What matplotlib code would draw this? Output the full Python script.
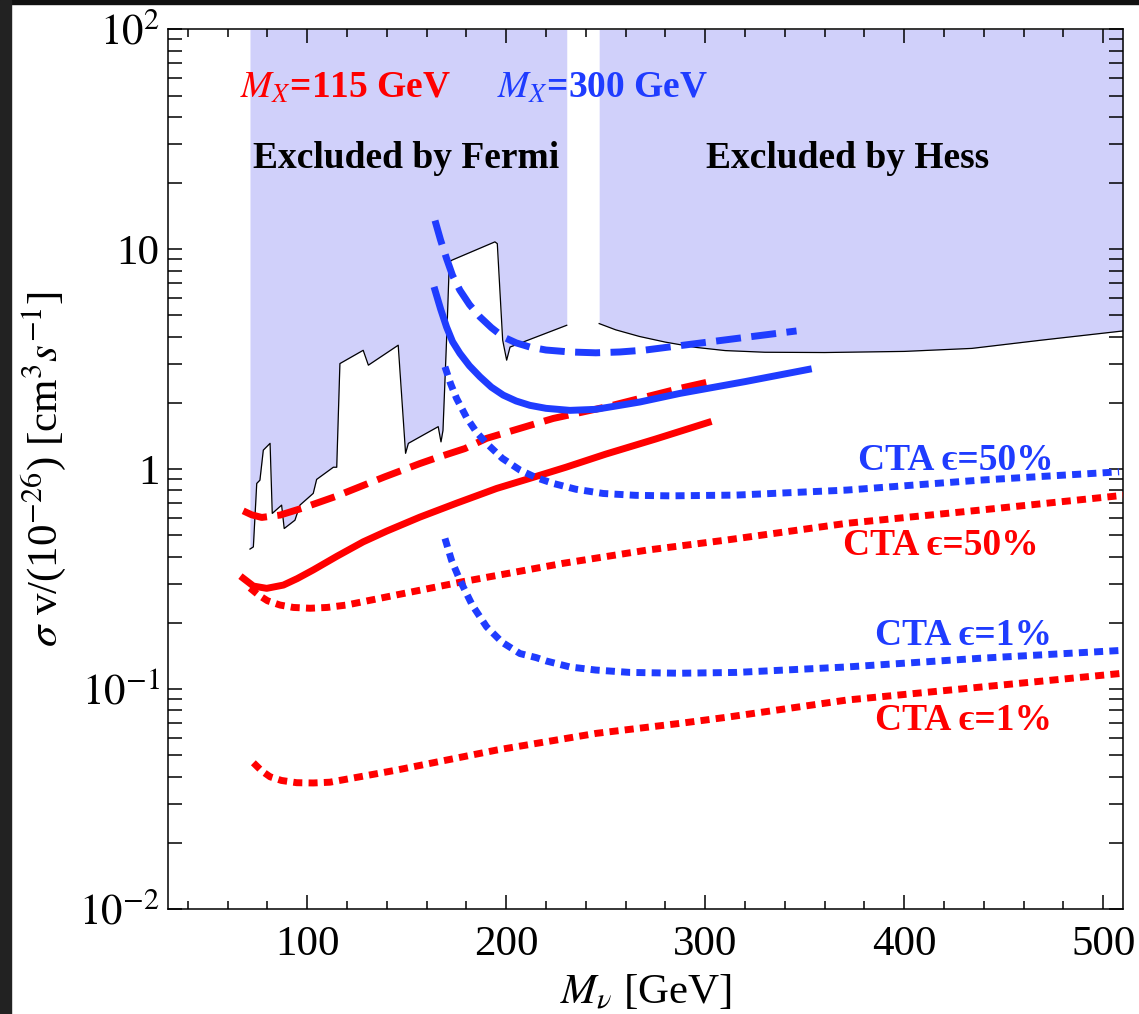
import numpy as np
import matplotlib
matplotlib.use("Agg")
import matplotlib.pyplot as plt
from matplotlib.patches import Rectangle
from matplotlib.ticker import FixedLocator, FixedFormatter, MultipleLocator, LogLocator, NullFormatter

plt.rcParams['font.family'] = ['Liberation Serif', 'DejaVu Serif']
plt.rcParams['mathtext.fontset'] = 'stix'

# Fermi-LAT line limit (lower edge of the excluded band), GeV vs 1e-26 cm^3/s
fermi_x = [71.2, 72.9, 74.6, 76.2, 77.9, 81.3, 82.4, 87.1, 88.4, 93.8, 96.3, 103.0,
           104.7, 113.1, 114.8, 116.4, 128.1, 130.7, 145.7, 149.4, 150.8, 165.8,
           167.2, 168.2, 170.2, 171.4, 172.6, 194.3, 195.5, 198.2, 200.2, 201.9, 230.4]
fermi_y = [0.433, 0.443, 0.861, 0.891, 1.22, 1.31, 0.629, 0.686, 0.537, 0.586, 0.686, 0.776,
           0.898, 1.02, 1.02, 3.02, 3.47, 2.97, 3.66, 1.18, 1.31, 1.56,
           1.33, 1.50, 4.28, 8.75, 8.91, 10.8, 10.6, 3.86, 3.13, 3.59, 4.51]

# H.E.S.S. limit
hess_x = [246.7, 255.0, 267.0, 280.0, 295.0, 310.0, 330.0, 360.0, 400.0, 434.0, 468.0, 510.0]
hess_y = [4.59, 4.30, 4.01, 3.78, 3.58, 3.46, 3.40, 3.39, 3.43, 3.54, 3.85, 4.25]

# M_X = 115 GeV
red_solid_x = [67.8, 72.9, 79.6, 88.0, 95.0, 103.0, 115.0, 128.1, 140.0, 156.6, 175.0, 195.2, 211.9,
               230.0, 250.0, 275.0, 301.5]
red_solid_y = [0.319, 0.294, 0.287, 0.297, 0.318, 0.348, 0.402, 0.467, 0.523, 0.605, 0.700, 0.817, 0.908,
               1.02, 1.17, 1.37, 1.63]

red_dash_x = [67.8, 72.0, 77.1, 86.3, 97.2, 113.9, 139.0, 156.6, 164.2, 179.2, 190.1, 223.6, 250.4, 287.3, 301.5]
red_dash_y = [0.646, 0.620, 0.603, 0.618, 0.663, 0.749, 0.923, 1.06, 1.12, 1.24, 1.38, 1.70, 1.92, 2.33, 2.49]

red_cta50_x = [71.2, 75.4, 80.0, 86.3, 93.0, 101.4, 110.0, 119.8, 144.9, 178.4, 228.6, 270.5, 310.7, 371.1, 438.0, 510.0]
red_cta50_y = [0.288, 0.268, 0.252, 0.241, 0.235, 0.233, 0.235, 0.241, 0.268, 0.308, 0.373, 0.428, 0.476, 0.567, 0.651, 0.760]

red_cta1_x = [72.9, 77.0, 81.3, 87.0, 94.7, 103.0, 111.4, 144.9, 195.2, 245.4, 287.3, 310.7, 371.1, 438.0, 510.0]
red_cta1_y = [0.0462, 0.0425, 0.0399, 0.0384, 0.0375, 0.0374, 0.0377, 0.0428, 0.0528, 0.0629, 0.0698, 0.0744, 0.0891, 0.102, 0.118]

# M_X = 300 GeV
blue_solid_x = [164.2, 167.0, 170.0, 173.0, 176.7, 181.5, 186.8, 192.5, 198.5, 205.0, 211.9, 220.0,
                232.0, 245.0, 257.1, 267.2, 287.3, 320.0, 351.8]
blue_solid_y = [6.51, 5.35, 4.43, 3.80, 3.36, 2.95, 2.63, 2.36, 2.17, 2.04, 1.95, 1.89,
                1.85, 1.87, 1.95, 2.02, 2.21, 2.50, 2.84]

blue_dash_x = [164.2, 167.0, 170.0, 173.0, 176.7, 181.5, 186.8, 192.5, 198.5, 205.0, 211.9, 220.0,
               232.0, 245.0, 257.1, 270.0, 289.0, 315.0, 345.9]
blue_dash_y = [13.5, 11.0, 9.07, 7.60, 6.51, 5.60, 4.92, 4.40, 3.99, 3.75, 3.59, 3.48,
               3.41, 3.38, 3.41, 3.48, 3.66, 3.92, 4.25]

blue_cta50_x = [169.2, 172.0, 175.0, 180.0, 185.1, 190.1, 198.0, 206.9, 215.0, 223.6, 235.0, 248.7,
                265.0, 282.3, 315.7, 371.1, 438.0, 508.0]
blue_cta50_y = [2.92, 2.45, 2.10, 1.72, 1.47, 1.31, 1.12, 0.99, 0.915, 0.861, 0.810, 0.775,
                0.760, 0.756, 0.762, 0.803, 0.891, 0.972]

blue_cta1_x = [169.2, 172.5, 176.7, 183.0, 190.1, 198.0, 206.9, 215.0, 220.3, 232.0, 245.0, 262.2,
               287.3, 315.7, 371.1, 438.0, 510.0]
blue_cta1_y = [0.484, 0.385, 0.313, 0.240, 0.192, 0.163, 0.145, 0.139, 0.134, 0.126, 0.122, 0.119,
               0.118, 0.119, 0.126, 0.138, 0.150]

RED = '#ff0000'
BLUE = '#1f3cff'
SHADE = '#d0d0fa'

fig = plt.figure(figsize=(11.39, 10.14), dpi=100)
ax = fig.add_axes([0.1475, 0.1036, 0.8385, 0.8675])

ax.set_xscale('linear')
ax.set_yscale('log')
ax.set_xlim(30, 510)
ax.set_ylim(1e-2, 1e2)

# excluded regions
ax.fill_between(fermi_x, fermi_y, 1e2, color=SHADE, lw=0, zorder=1)
ax.fill_between(hess_x, hess_y, 1e2, color=SHADE, lw=0, zorder=1)
ax.plot(fermi_x, fermi_y, color='black', lw=0.9, zorder=2)
ax.plot(hess_x, hess_y, color='black', lw=0.9, zorder=2)

LW = 5.0
dashed = (0, (3.6, 1.5))
dotted = (0, (1.3, 0.9))
ax.plot(red_solid_x, red_solid_y, color=RED, lw=LW, zorder=3)
ax.plot(red_dash_x, red_dash_y, color=RED, lw=LW, ls=dashed, zorder=3)
ax.plot(red_cta50_x, red_cta50_y, color=RED, lw=LW, ls=dotted, zorder=3)
ax.plot(red_cta1_x, red_cta1_y, color=RED, lw=LW, ls=dotted, zorder=3)
ax.plot(blue_solid_x, blue_solid_y, color=BLUE, lw=LW, zorder=3)
ax.plot(blue_dash_x, blue_dash_y, color=BLUE, lw=LW, ls=dashed, zorder=3)
ax.plot(blue_cta50_x, blue_cta50_y, color=BLUE, lw=LW, ls=dotted, zorder=3)
ax.plot(blue_cta1_x, blue_cta1_y, color=BLUE, lw=LW, ls=dotted, zorder=3)

# annotations
kw = dict(fontweight='bold', ha='left', va='center', zorder=4)
ax.text(66.2, 53.9, r'$M_X$=115 GeV', color=RED, fontsize=27, **kw)
ax.text(195.3, 53.9, r'$M_X$=300 GeV', color=BLUE, fontsize=27, **kw)
ax.text(72.7, 25.9, 'Excluded by Fermi', color='black', fontsize=27, **kw)
ax.text(300.4, 25.9, 'Excluded by Hess', color='black', fontsize=27, **kw)
ax.text(377.0, 1.099, 'CTA \u03f5=50%', color=BLUE, fontsize=27, **kw)
ax.text(369.0, 0.451, 'CTA \u03f5=50%', color=RED, fontsize=27, **kw)
ax.text(385.5, 0.176, 'CTA \u03f5=1%', color=BLUE, fontsize=27, **kw)
ax.text(385.5, 0.0723, 'CTA \u03f5=1%', color=RED, fontsize=27, **kw)

# ticks
ax.xaxis.set_major_locator(MultipleLocator(100))
ax.xaxis.set_minor_locator(MultipleLocator(20))
ax.yaxis.set_major_locator(FixedLocator([1e-2, 1e-1, 1, 10, 100]))
ax.yaxis.set_major_formatter(FixedFormatter([r'$10^{-2}$', r'$10^{-1}$', '1', '10', r'$10^{2}$']))
ax.yaxis.set_minor_locator(LogLocator(base=10, subs=np.arange(2, 10), numticks=20))
ax.yaxis.set_minor_formatter(NullFormatter())
ax.tick_params(which='both', direction='in', top=True, right=True, width=1.1, labelsize=31)
ax.tick_params(axis='y', which='both', length=10, pad=6)
ax.tick_params(axis='x', which='major', length=10, pad=12)
ax.tick_params(axis='x', which='minor', length=5.5)
for s in ax.spines.values():
    s.set_linewidth(1.1)

ax.set_xlabel(r'$M_\nu$ [GeV]', fontsize=31, labelpad=7)
ax.set_ylabel(r'$\sigma$ v/(10$^{-26}$) [cm$^3$$s^{-1}$]', fontsize=31, labelpad=8)

# dark frame strips
fig.patches.append(Rectangle((0, 1 - 4 / 1014), 1, 4 / 1014, transform=fig.transFigure, color='#111111', zorder=10))
fig.patches.append(Rectangle((0, 0), 11 / 1139, 1, transform=fig.transFigure, color='#222222', zorder=10))

fig.savefig('out.png', dpi=100)
